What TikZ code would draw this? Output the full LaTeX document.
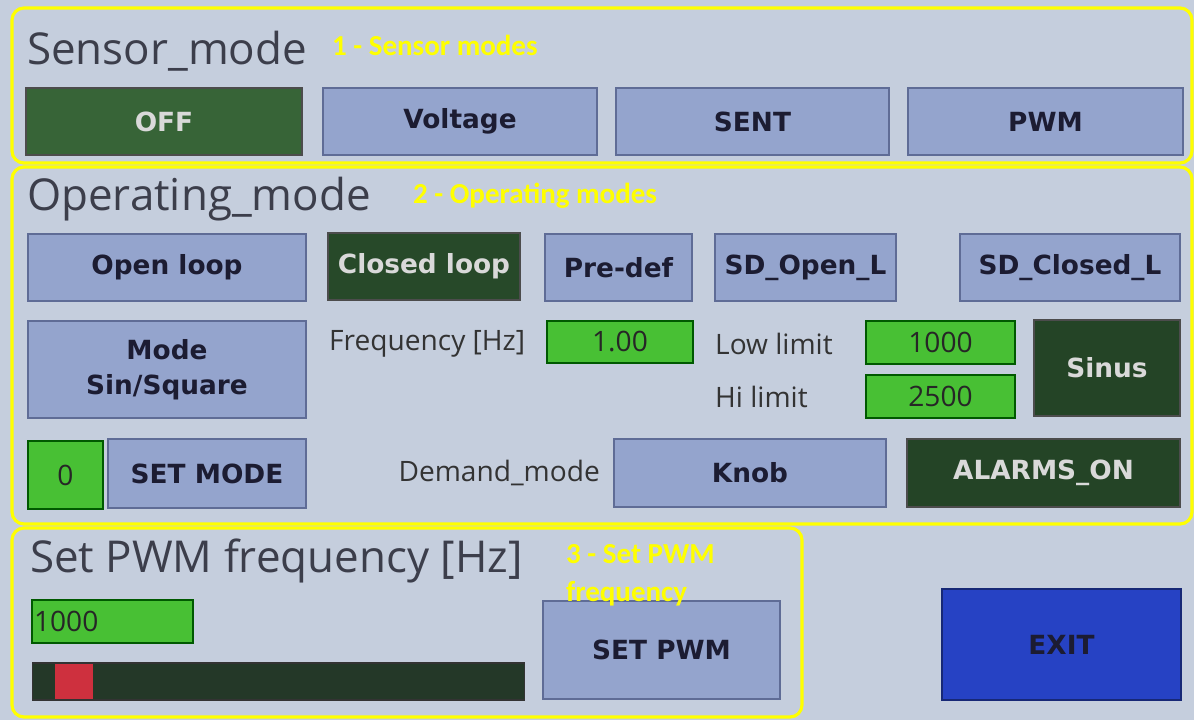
\documentclass[tikz,border=0pt]{standalone}
\usepackage{fontspec}
\setmainfont{Open Sans}
\newfontfamily\btnfont{DejaVu Sans}
\newfontfamily\notefont{Carlito}
\usepackage{xcolor}
\usepackage{tikz}
\usetikzlibrary{positioning}

\definecolor{layar}{RGB}{197,206,221}
\definecolor{biru}{RGB}{148,164,205}
\definecolor{biruTepi}{RGB}{95,108,150}
\definecolor{hijauGelap}{RGB}{55,100,55}
\definecolor{hijauTua}{RGB}{36,68,38}
\definecolor{hijauTerang}{RGB}{72,192,52}
\definecolor{tinta}{RGB}{28,28,50}
\definecolor{judul}{RGB}{60,62,75}
\definecolor{kuning}{RGB}{255,255,0}
\definecolor{biruKeluar}{RGB}{38,66,196}
\definecolor{merah}{RGB}{206,48,62}
\definecolor{batang}{RGB}{36,56,40}

\begin{document}
\begin{tikzpicture}[
    x=0.02cm, y=-0.02cm,
    tombol/.style={draw=biruTepi, line width=0.8pt, fill=biru, align=center,
                   text=tinta, font=\btnfont\bfseries\fontsize{15}{20}\selectfont,
                   inner sep=0pt},
    aktif/.style={tombol, fill=#1, draw=black!70, text=white!85!black},
    isian/.style={draw=green!35!black, line width=0.6pt, fill=hijauTerang,
                  text=black!85, font=\fontsize{16}{19}\selectfont, inner sep=0pt},
    judulmode/.style={anchor=base west, text=judul, font=\fontsize{25}{29}\selectfont},
    label/.style={anchor=west, text=black!80, font=\fontsize{16}{19}\selectfont},
    catatan/.style={text=kuning, font=\notefont\bfseries\fontsize{16.5}{22}\selectfont},
    bingkai/.style={draw=kuning, line width=1.8pt, rounded corners=0.24cm}
  ]
    \fill[layar] (0,0) rectangle (1194,720);
    \useasboundingbox (0,0) rectangle (1194,720);

    % 1 - sensor
    \draw[bingkai] (12,8) rectangle (1192,163);
    \node[judulmode] (sensor) at (21,64) {Sensor\_mode};
    \node[catatan, anchor=base west] (cat1) at (326,55) {1 - Sensor modes};
    \node[aktif=hijauGelap, minimum width=5.52cm, minimum height=1.34cm] (off) at (164,121.5) {OFF};
    \node[tombol, minimum width=5.48cm, minimum height=1.34cm] (volt) at (460,121.5) {Voltage};
    \node[tombol, minimum width=5.46cm, minimum height=1.34cm] (sent) at (752.5,121.5) {SENT};
    \node[tombol, minimum width=5.5cm, minimum height=1.34cm] (pwm) at (1045.5,121.5) {PWM};

    % 2 - operating
    \draw[bingkai] (12,167) rectangle (1192,524);
    \node[judulmode] (operating) at (21,210) {Operating\_mode};
    \node[catatan, anchor=base west] (cat2) at (407,203) {2 - Operating modes};
    \node[tombol, minimum width=5.56cm, minimum height=1.34cm] (open) at (167,267.5) {Open loop};
    \node[aktif=hijauTua!85!hijauGelap, minimum width=3.84cm, minimum height=1.34cm] (closed) at (424,266.5) {Closed loop};
    \node[tombol, minimum width=2.94cm, minimum height=1.34cm] (predef) at (618.5,267.5) {Pre-def};
    \node[tombol, minimum width=3.62cm, minimum height=1.34cm] (sdopen) at (805.5,267.5) {SD\_Open\_L};
    \node[tombol, minimum width=4.4cm, minimum height=1.34cm] (sdclosed) at (1070,267.5) {SD\_Closed\_L};

    \node[tombol, minimum width=5.56cm, minimum height=1.94cm] (modus) at (167,369.5) {Mode\\Sin/Square};
    \node[label] (frek) at (323,344) {Frequency [Hz]};
    \node[isian, minimum width=2.92cm, minimum height=0.84cm] (frekval) at (620,342) {1.00};
    \node[label] (low) at (709,344) {Low limit};
    \node[isian, minimum width=2.98cm, minimum height=0.86cm] (lowval) at (940.5,342.5) {1000};
    \node[label] (hi) at (709,397) {Hi limit};
    \node[isian, minimum width=2.98cm, minimum height=0.86cm] (hival) at (940.5,396.5) {2500};
    \node[aktif=hijauTua, minimum width=2.92cm, minimum height=1.92cm] (sinus) at (1107,368) {Sinus};

    \node[isian, minimum width=1.5cm, minimum height=1.36cm] (nol) at (65.5,475) {0};
    \node[tombol, minimum width=3.96cm, minimum height=1.38cm] (setmode) at (207,473.5) {SET MODE};
    \node[label, anchor=east] (demand) at (606,473) {Demand\_mode};
    \node[tombol, minimum width=5.44cm, minimum height=1.36cm] (knob) at (750,473) {Knob};
    \node[aktif=hijauTua, minimum width=5.46cm, minimum height=1.36cm] (alarm) at (1043.5,473) {ALARMS\_ON};

    % 3 - pwm
    \draw[bingkai] (12,528) rectangle (802,717);
    \node[judulmode] (setfrek) at (24,572) {Set PWM frequency [Hz]};
    \node[isian, minimum height=0.86cm, text width=3.14cm, inner xsep=0.04cm, align=left] (pwmval) at (112.5,621.5) {1000};
    \node[fill=batang, draw=black!80, line width=0.6pt, minimum width=9.86cm, minimum height=0.74cm, inner sep=0pt] (bar) at (278.5,681.5) {};
    \node[fill=merah, minimum width=0.76cm, minimum height=0.7cm, inner sep=0pt] (geser) at (74,681.5) {};
    \node[tombol, minimum width=4.74cm, minimum height=1.96cm] (setpwm) at (661.5,650) {SET PWM};
    \node[tombol, fill=biruKeluar, draw=biruKeluar!60!black, minimum width=4.78cm, minimum height=2.22cm] (exit) at (1061.5,644.5) {EXIT};
    % catatan di atas tombol
    \node[catatan, anchor=north west, align=left] (cat3) at (560,538) {3 - Set PWM\\frequency};
  \end{tikzpicture}
\end{document}
